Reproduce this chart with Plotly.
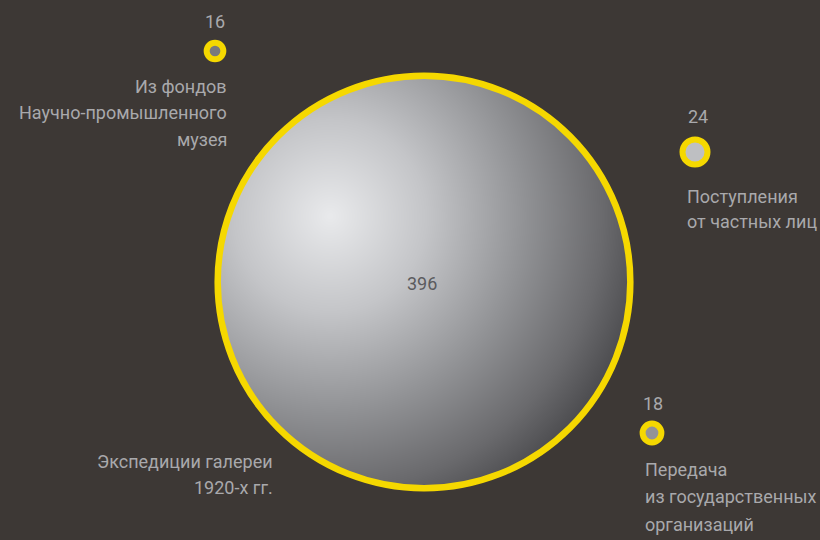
import numpy as np
import plotly.graph_objects as go

# ---- data ----
categories = ["Экспедиции галереи<br>1920-х гг.",
              "Из фондов<br>Научно-промышленного<br>музея",
              "Поступления<br>от частных лиц",
              "Передача<br>из государственных<br>организаций"]
values = [396, 16, 24, 18]

# ---- layout (pixel-like positions of the bubbles) ----
cx = [424, 215, 695, 652]
cy = [282, 51, 152, 433]
fill_colors = ["rgba(0,0,0,0)", "#79797c", "#bebfc2", "#939396"]

BG = "#3d3835"
YELLOW = "#f5d800"
TXT = "#a9a9ac"
FONT = "Roboto, sans-serif"
FS = 18
SCALE = 1.042   # px of diameter per unit
LW = [6.5, 6, 6, 6]

fig = go.Figure()

# gradient fill of the big bubble (heatmap masked to its disc)
R = values[0] * SCALE / 2
step = 2
xs = np.arange(cx[0] - R, cx[0] + R + step, step)
ys = np.arange(cy[0] - R, cy[0] + R + step, step)
X, Y = np.meshgrid(xs, ys)
fx, fy = cx[0] - 94, cy[0] - 66
d = np.hypot(X - fx, Y - fy)
dmax = np.hypot(94, 66) + R
z = d / dmax
z[np.hypot(X - cx[0], Y - cy[0]) > R - 1] = np.nan
z = np.round(z, 3)
fig.add_trace(go.Heatmap(
    x=xs, y=ys, z=z, zmin=0, zmax=1, showscale=False, hoverinfo="skip",
    zsmooth="best",
    colorscale=[[0, "#e9eaec"], [0.3, "#c4c5c8"], [0.6, "#929396"], [0.85, "#6a6a6d"], [1, "#4b4b4e"]],
))

fig.add_trace(go.Scatter(
    x=cx, y=cy, mode="markers", hoverinfo="skip",
    marker=dict(size=[v * SCALE for v in values], sizemode="diameter", opacity=1,
                color=fill_colors, line=dict(color=YELLOW, width=LW)),
))

annotations = []
annotations.append(dict(x=cx[0] - 2, y=cy[0] + 1, text=str(values[0]), showarrow=False,
                        font=dict(size=FS, color="#5b5b5e", family=FONT),
                        xanchor="center", yanchor="middle"))
num_pos = [(215, 21, "center"), (686, 116, "left"), (641, 403, "left")]
for (x, y, a), v in zip(num_pos, values[1:]):
    annotations.append(dict(x=x, y=y, text=str(v), showarrow=False,
                            font=dict(size=FS, color=TXT, family=FONT),
                            xanchor=a, yanchor="middle"))
# label anchor: x, first-line centre y, line spacing, alignment
lab_pos = [(275, 461, 26, "right"), (229, 86, 26.5, "right"),
           (685, 196, 25, "left"), (643, 469, 27.5, "left")]
for (x, y0, dy, a), t in zip(lab_pos, categories):
    for i, line in enumerate(t.split("<br>")):
        annotations.append(dict(x=x, y=y0 + i * dy, text=line, showarrow=False, align=a,
                                font=dict(size=FS, color=TXT, family=FONT),
                                xanchor=a, yanchor="middle"))

fig.update_layout(
    width=820, height=540, margin=dict(l=0, r=0, t=0, b=0),
    paper_bgcolor=BG, plot_bgcolor=BG, showlegend=False,
    xaxis=dict(range=[0, 820], visible=False, fixedrange=True),
    yaxis=dict(range=[540, 0], visible=False, fixedrange=True),
    annotations=annotations,
)

fig.write_html("out.html", config={"displayModeBar": False},
               post_script="document.body.style.margin='0';document.body.style.background='%s';" % BG)
